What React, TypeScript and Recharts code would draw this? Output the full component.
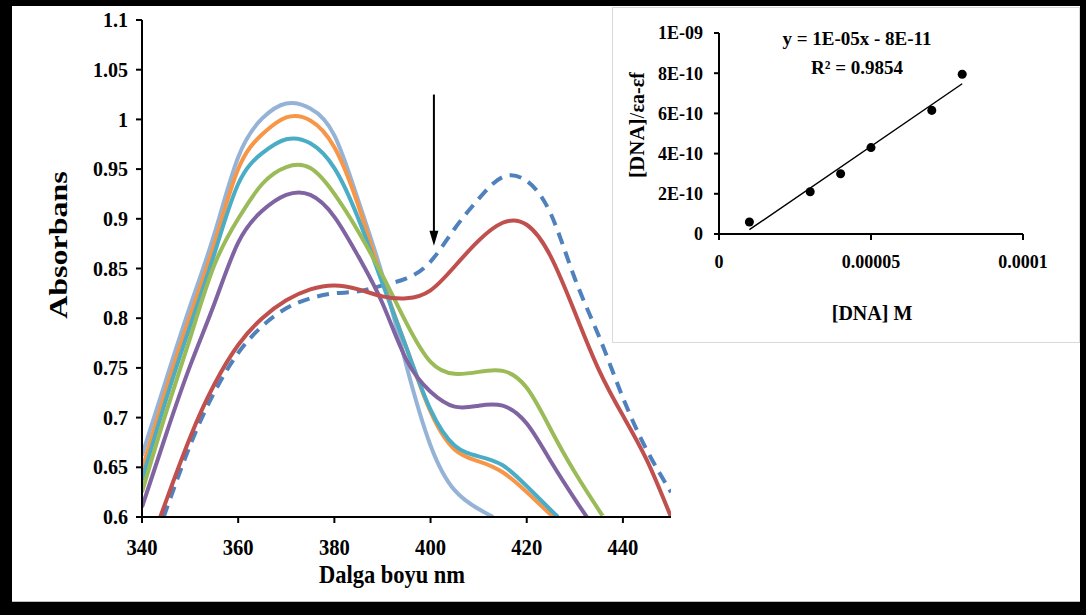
import React from "react";
import {
  LineChart,
  ComposedChart,
  Line,
  Scatter,
  XAxis,
  YAxis,
  ReferenceLine,
} from "recharts";

// wavelength (nm) / absorbance pairs
const lightBlue: [number, number][] = [
  [340, 0.662], [345, 0.738], [350, 0.812], [355, 0.884], [360, 0.962],
  [365, 1.001], [370, 1.016], [375, 1.011], [380, 0.984], [385, 0.918],
  [390, 0.843], [395, 0.752], [400, 0.672], [405, 0.627], [410, 0.608],
  [413, 0.6],
];
const orange: [number, number][] = [
  [340, 0.648], [345, 0.728], [350, 0.802], [355, 0.874], [360, 0.95],
  [365, 0.985], [370, 1.002], [375, 0.999], [380, 0.972], [385, 0.913],
  [390, 0.838], [395, 0.77], [400, 0.706], [405, 0.668], [410, 0.656],
  [415, 0.645], [420, 0.625], [425.5, 0.6],
];
const teal: [number, number][] = [
  [340, 0.637], [345, 0.718], [350, 0.792], [355, 0.864], [360, 0.935],
  [365, 0.966], [370, 0.98], [375, 0.976], [380, 0.951], [385, 0.9],
  [390, 0.835], [395, 0.77], [400, 0.708], [405, 0.672], [410, 0.661],
  [415, 0.652], [420, 0.631], [425, 0.607], [426.5, 0.6],
];
const green: [number, number][] = [
  [340, 0.625], [345, 0.705], [350, 0.78], [355, 0.853], [360, 0.9],
  [365, 0.935], [370, 0.952], [375, 0.951], [380, 0.925], [385, 0.887],
  [390, 0.843], [395, 0.795], [400, 0.756], [405, 0.744], [410, 0.746],
  [415, 0.747], [420, 0.73], [425, 0.688], [430, 0.645], [435, 0.607],
  [436, 0.6],
];
const purple: [number, number][] = [
  [340, 0.61], [345, 0.683], [350, 0.752], [355, 0.814], [360, 0.876],
  [365, 0.908], [370, 0.924], [375, 0.924], [380, 0.902], [385, 0.862],
  [390, 0.815], [395, 0.758], [400, 0.726], [405, 0.711], [410, 0.712],
  [415, 0.712], [420, 0.694], [425, 0.656], [430, 0.618], [432.5, 0.6],
];
const red: [number, number][] = [
  [343.8, 0.6], [345, 0.616], [350, 0.68], [355, 0.733], [360, 0.773],
  [365, 0.8], [370, 0.818], [375, 0.829], [380, 0.833], [385, 0.829],
  [390, 0.822], [395, 0.82], [400, 0.828], [405, 0.852], [410, 0.878],
  [415, 0.896], [420, 0.894], [425, 0.862], [430, 0.806], [435, 0.748],
  [440, 0.702], [445, 0.657], [450, 0.6],
];
const dashedBlue: [number, number][] = [
  [344.5, 0.6], [350, 0.672], [355, 0.725], [360, 0.765], [365, 0.792],
  [370, 0.81], [375, 0.82], [380, 0.825], [385, 0.827], [390, 0.833],
  [395, 0.84], [400, 0.857], [405, 0.89], [410, 0.92], [415, 0.942],
  [420, 0.938], [425, 0.905], [430, 0.84], [435, 0.782], [440, 0.72],
  [445, 0.667], [450, 0.625],
];

const xTicks = [340, 360, 380, 400, 420, 440];
const yTicks = [0.6, 0.65, 0.7, 0.75, 0.8, 0.85, 0.9, 0.95, 1, 1.05, 1.1];
const yTickLabels = ["0.6", "0.65", "0.7", "0.75", "0.8", "0.85", "0.9", "0.95", "1", "1.05", "1.1"];

// arrow drawn over the spectra (nm, absorbance)
const arrowNm = 400.7;
const arrowTop = 1.025;
const arrowTip = 0.873;

// inset: [DNA] vs [DNA]/(εa-εf)
const dnaConc = [1e-5, 3e-5, 4e-5, 5e-5, 7e-5, 8e-5];
const dnaRatio = [6e-11, 2.1e-10, 3.0e-10, 4.3e-10, 6.15e-10, 7.95e-10];
const insetXTicks = [0, 0.00005, 0.0001];
const insetXTickLabels = ["0", "0.00005", "0.0001"];
const insetYTicks = [0, 2e-10, 4e-10, 6e-10, 8e-10, 1e-9];
const insetYTickLabels = ["0", "2E-10", "4E-10", "6E-10", "8E-10", "1E-09"];

const SERIF = '"Liberation Serif", "Times New Roman", serif';

const pts = (s: [number, number][]) => s.map(([nm, a]) => ({ nm, a }));
const labelFor = (ticks: number[], labels: string[]) => (v: number) => {
  const i = ticks.findIndex((t) => Math.abs(t - v) < Math.abs(t) * 1e-6 + 1e-15);
  return i >= 0 ? labels[i] : String(v);
};

// least squares trendline through the inset points
const n = dnaConc.length;
const mx = dnaConc.reduce((s, v) => s + v, 0) / n;
const my = dnaRatio.reduce((s, v) => s + v, 0) / n;
let sxy = 0;
let sxx = 0;
dnaConc.forEach((x, i) => {
  sxy += (x - mx) * (dnaRatio[i] - my);
  sxx += (x - mx) * (x - mx);
});
const slope = sxy / sxx;
const intercept = my - slope * mx;
const trend = [dnaConc[0], dnaConc[n - 1]].map((x) => ({ x, y: slope * x + intercept }));
const scatterPts = dnaConc.map((x, i) => ({ x, y: dnaRatio[i] }));

const XTick = (props: any) => {
  const { x, y, payload } = props;
  return (
    <text
      transform={`translate(${x},${y + 26}) scale(0.86,1)`}
      textAnchor="middle"
      fontFamily={SERIF}
      fontWeight="bold"
      fontSize={24}
      fill="#000"
    >
      {payload.value}
    </text>
  );
};

const MainTitles = () => (
  <g fontFamily={SERIF} fontWeight="bold" fill="#000">
    <text transform="translate(392,583) scale(0.9,1)" textAnchor="middle" fontSize={25}>
      Dalga boyu nm
    </text>
    <text
      transform="translate(58,245) rotate(-90) scale(1,0.82)"
      textAnchor="middle"
      dominantBaseline="central"
      fontSize={32}
    >
      Absorbans
    </text>
  </g>
);

const InsetTitles = () => (
  <g fontFamily={SERIF} fontWeight="bold" fill="#000">
    <text x={245} y={38} textAnchor="middle" fontSize={19}>
      y = 1E-05x - 8E-11
    </text>
    <text x={245} y={67} textAnchor="middle" fontSize={19}>
      R² = 0.9854
    </text>
    <text x={260} y={313} textAnchor="middle" fontSize={20}>
      [DNA] M
    </text>
    <text transform="translate(25,118) rotate(-90)" textAnchor="middle" dominantBaseline="central">
      <tspan fontSize={21}>[DNA]</tspan>
      <tspan fontSize={21} fontWeight="normal">/</tspan>
      <tspan fontSize={20}>εa-εf</tspan>
    </text>
  </g>
);

const Arrow = (props: any) => {
  const { x1, y1, x2, y2 } = props;
  return (
    <g>
      <line x1={x1} y1={y1} x2={x2} y2={y2 - 12} stroke="#000" strokeWidth={2} />
      <polygon points={`${x2 - 4.5},${y2 - 15} ${x2 + 4.5},${y2 - 15} ${x2},${y2}`} fill="#000" />
    </g>
  );
};

const axisStyle = { stroke: "#000", strokeWidth: 2 };

export default function App() {
  return (
    <div style={{ position: "absolute", left: 0, top: 0, width: 1086, height: 615, background: "#000" }}>
      <div
        style={{
          position: "absolute",
          left: 12,
          top: 6,
          width: 1068,
          height: 595,
          background: "#fff",
          borderBottom: "1px solid #bdbdbd",
        }}
      />
      <div style={{ position: "absolute", left: 0, top: 0 }}>
        <LineChart width={700} height={600} margin={{ top: 20, right: 29, bottom: 43, left: 0 }}>
          <XAxis
            type="number"
            dataKey="nm"
            domain={[340, 450]}
            ticks={xTicks}
            interval={0}
            allowDataOverflow
            height={40}
            tickSize={6}
            tickMargin={6}
            tick={<XTick />}
            axisLine={axisStyle}
            tickLine={axisStyle}
            label={<MainTitles />}
          />
          <YAxis
            type="number"
            domain={[0.6, 1.1]}
            ticks={yTicks}
            interval={0}
            allowDataOverflow
            width={142}
            tickSize={6}
            tickMargin={8}
            tickFormatter={labelFor(yTicks, yTickLabels)}
            tick={{ fill: "#000", fontSize: 20, fontWeight: "bold", fontFamily: SERIF }}
            axisLine={axisStyle}
            tickLine={axisStyle}
          />
          <Line data={pts(dashedBlue)} dataKey="a" type="natural" stroke="#4F81BD" strokeWidth={4} strokeDasharray="12 8" dot={false} isAnimationActive={false} />
          <Line data={pts(lightBlue)} dataKey="a" type="natural" stroke="#95B3D7" strokeWidth={4} dot={false} isAnimationActive={false} />
          <Line data={pts(orange)} dataKey="a" type="natural" stroke="#F79646" strokeWidth={4} dot={false} isAnimationActive={false} />
          <Line data={pts(teal)} dataKey="a" type="natural" stroke="#4BACC6" strokeWidth={4} dot={false} isAnimationActive={false} />
          <Line data={pts(green)} dataKey="a" type="natural" stroke="#9BBB59" strokeWidth={4} dot={false} isAnimationActive={false} />
          <Line data={pts(purple)} dataKey="a" type="natural" stroke="#8064A2" strokeWidth={4} dot={false} isAnimationActive={false} />
          <Line data={pts(red)} dataKey="a" type="natural" stroke="#C0504D" strokeWidth={4} dot={false} isAnimationActive={false} />
          <ReferenceLine
            segment={[
              { x: arrowNm, y: arrowTop },
              { x: arrowNm, y: arrowTip },
            ]}
            shape={Arrow}
          />
        </LineChart>
      </div>
      <div
        style={{
          position: "absolute",
          left: 612,
          top: 7,
          width: 468,
          height: 336,
          background: "#fff",
          boxSizing: "border-box",
          border: "1px solid #d9d9d9",
        }}
      >
        <div style={{ position: "absolute", left: -1, top: -1 }}>
          <ComposedChart width={468} height={336} margin={{ top: 26, right: 57, bottom: 49, left: 0 }}>
            <XAxis
              type="number"
              dataKey="x"
              domain={[0, 0.0001]}
              ticks={insetXTicks}
              interval={0}
              height={60}
              tickSize={6}
              tickMargin={15}
              tickFormatter={labelFor(insetXTicks, insetXTickLabels)}
              tick={{ fill: "#000", fontSize: 18, fontWeight: "bold", fontFamily: SERIF }}
              axisLine={axisStyle}
              tickLine={axisStyle}
              label={<InsetTitles />}
            />
            <YAxis
              type="number"
              dataKey="y"
              domain={[0, 1e-9]}
              ticks={insetYTicks}
              interval={0}
              width={107}
              tickSize={5}
              tickMargin={11}
              tickFormatter={labelFor(insetYTicks, insetYTickLabels)}
              tick={{ fill: "#000", fontSize: 18, fontWeight: "bold", fontFamily: SERIF }}
              axisLine={axisStyle}
              tickLine={axisStyle}
            />
            <Line data={trend} dataKey="y" type="linear" stroke="#000" strokeWidth={1.5} dot={false} isAnimationActive={false} />
            <Scatter data={scatterPts} fill="#000" isAnimationActive={false} />
          </ComposedChart>
        </div>
      </div>
    </div>
  );
}
